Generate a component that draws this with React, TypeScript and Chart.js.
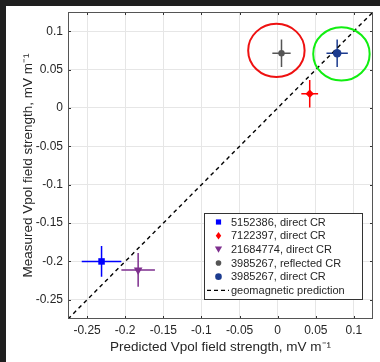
import React, { useEffect, useRef } from 'react';
import { Chart, registerables } from 'chart.js';

Chart.register(...registerables);

// ---- data ----
const seriesLabels = [
  '5152386, direct CR',
  '7122397, direct CR',
  '21684774, direct CR',
  '3985267, reflected CR',
  '3985267, direct CR',
];
const seriesX = [-0.231, 0.042, -0.183, 0.005, 0.078];
const seriesY = [-0.2, 0.0185, -0.211, 0.0713, 0.0713];
const xErrors = [0.026, 0.011, 0.022, 0.012, 0.014];
const yErrors = [0.02, 0.018, 0.022, 0.018, 0.018];
const seriesColors = ['#0000ff', '#ff0000', '#7e2f8e', '#555555', '#1c3b8f'];
const markerStyles = ['rect', 'rectRot', 'triangle', 'circle', 'circle'];

const predictionLabel = 'geomagnetic prediction';
const predictionX = [-0.275, 0.125];
const predictionY = [-0.275, 0.125];

const tickValues = [-0.25, -0.2, -0.15, -0.1, -0.05, 0, 0.05, 0.1];
const tickLabels = ['-0.25', '-0.2', '-0.15', '-0.1', '-0.05', '0', '0.05', '0.1'];

const highlightCx = [-0.0017, 0.0836];
const highlightCy = [0.0749, 0.0704];
const highlightRx = [0.037, 0.037];
const highlightRy = [0.0347, 0.0347];
const highlightColors = ['#ee1111', '#11ee11'];

const xTitle = 'Predicted Vpol field strength, mV m\u207B\u00B9';
const yTitle = 'Measured Vpol field strength, mV m\u207B\u00B9';

const FONT = '"Liberation Sans", Arial, Helvetica, sans-serif';
const TEXT = '#262626';

// ---- style (not data) ----
const pointRadii = [4.6, 4.2, 5, 3.2, 4.3];
const pointRotations = [0, 0, 180, 0, 0];
const legendSizes = [2.6, 3.4, 3.6, 2.8, 3.3];

function drawLegendMarker(ctx: CanvasRenderingContext2D, style: string, x: number, y: number, r: number, color: string) {
  ctx.save();
  ctx.fillStyle = color;
  ctx.beginPath();
  if (style === 'rect') {
    ctx.rect(x - r, y - r, 2 * r, 2 * r);
  } else if (style === 'rectRot') {
    ctx.moveTo(x, y - r * 1.1);
    ctx.lineTo(x + r * 0.8, y);
    ctx.lineTo(x, y + r * 1.1);
    ctx.lineTo(x - r * 0.8, y);
    ctx.closePath();
  } else if (style === 'triangle') {
    ctx.moveTo(x - r, y - r * 0.75);
    ctx.lineTo(x + r, y - r * 0.75);
    ctx.lineTo(x, y + r * 0.95);
    ctx.closePath();
  } else {
    ctx.arc(x, y, r, 0, Math.PI * 2);
  }
  ctx.fill();
  ctx.restore();
}

const errorBarPlugin = {
  id: 'errorBars',
  beforeDatasetsDraw(chart: any) {
    const { ctx, scales, chartArea } = chart;
    const xs = scales.x;
    const ys = scales.y;
    ctx.save();
    ctx.beginPath();
    ctx.rect(chartArea.left, chartArea.top, chartArea.right - chartArea.left, chartArea.bottom - chartArea.top);
    ctx.clip();
    chart.data.datasets.forEach((ds: any) => {
      if (ds.errorX == null) return;
      const p = ds.data[0];
      const cx = xs.getPixelForValue(p.x);
      const cy = ys.getPixelForValue(p.y);
      ctx.strokeStyle = ds.borderColor;
      ctx.lineWidth = 1.5;
      ctx.beginPath();
      ctx.moveTo(xs.getPixelForValue(p.x - ds.errorX), cy);
      ctx.lineTo(xs.getPixelForValue(p.x + ds.errorX), cy);
      ctx.moveTo(cx, ys.getPixelForValue(p.y - ds.errorY));
      ctx.lineTo(cx, ys.getPixelForValue(p.y + ds.errorY));
      ctx.stroke();
    });
    ctx.restore();
  },
};

const framePlugin = {
  id: 'frame',
  afterDatasetsDraw(chart: any) {
    const { ctx, scales, chartArea: a } = chart;
    ctx.save();
    highlightCx.forEach((cx, i) => {
      const px = scales.x.getPixelForValue(cx);
      const py = scales.y.getPixelForValue(highlightCy[i]);
      const rx = Math.abs(scales.x.getPixelForValue(cx + highlightRx[i]) - px);
      const ry = Math.abs(scales.y.getPixelForValue(highlightCy[i] + highlightRy[i]) - py);
      ctx.strokeStyle = highlightColors[i];
      ctx.lineWidth = 2;
      ctx.beginPath();
      ctx.ellipse(px, py, rx, ry, 0, 0, Math.PI * 2);
      ctx.stroke();
    });
    ctx.strokeStyle = '#333333';
    ctx.lineWidth = 1;
    ctx.beginPath();
    const tl = 3;
    tickValues.forEach((v) => {
      const x = Math.round(scales.x.getPixelForValue(v)) + 0.5;
      ctx.moveTo(x, a.bottom);
      ctx.lineTo(x, a.bottom - tl);
      ctx.moveTo(x, a.top);
      ctx.lineTo(x, a.top + tl);
      const y = Math.round(scales.y.getPixelForValue(v)) + 0.5;
      ctx.moveTo(a.left, y);
      ctx.lineTo(a.left + tl, y);
      ctx.moveTo(a.right, y);
      ctx.lineTo(a.right - tl, y);
    });
    ctx.stroke();
    ctx.strokeStyle = '#555555';
    ctx.strokeRect(a.left + 0.5, a.top + 0.5, a.right - a.left - 1, a.bottom - a.top - 1);
    ctx.restore();
  },
};

const legendPlugin = {
  id: 'insideLegend',
  afterDraw(chart: any) {
    const { ctx, chartArea: a } = chart;
    const w = 158;
    const rowH = 13.66;
    const h = 86;
    const right = a.right - 11;
    const bottom = a.bottom - 20;
    const left = right - w;
    const top = bottom - h;
    ctx.save();
    ctx.fillStyle = '#ffffff';
    ctx.fillRect(left, top, w, h);
    ctx.strokeStyle = '#333333';
    ctx.lineWidth = 1;
    ctx.strokeRect(Math.round(left) + 0.5, Math.round(top) + 0.5, w, h);
    ctx.font = `11px ${FONT}`;
    ctx.fillStyle = TEXT;
    ctx.textBaseline = 'middle';
    ctx.textAlign = 'left';
    const datasets = chart.data.datasets;
    datasets.forEach((ds: any, i: number) => {
      const y = top + 9 + i * rowH;
      if (ds.errorX != null) {
        drawLegendMarker(ctx, markerStyles[i], left + 14.5, y, legendSizes[i], seriesColors[i]);
      } else {
        ctx.save();
        ctx.strokeStyle = '#000000';
        ctx.lineWidth = 1.3;
        ctx.setLineDash([4, 3]);
        ctx.beginPath();
        ctx.moveTo(left + 3, y);
        ctx.lineTo(left + 25, y);
        ctx.stroke();
        ctx.restore();
      }
      ctx.fillStyle = TEXT;
      ctx.fillText(ds.label, left + 27, y + 0.5);
    });
    ctx.restore();
  },
};

function setTicks(scale: any) {
  scale.ticks = tickValues.map((v) => ({ value: v }));
}

export default function App() {
  const canvasRef = useRef<HTMLCanvasElement | null>(null);

  useEffect(() => {
    const canvas = canvasRef.current;
    if (!canvas) return;
    const datasets: any[] = seriesLabels.map((label, i) => ({
      label,
      data: [{ x: seriesX[i], y: seriesY[i] }],
      pointStyle: markerStyles[i],
      rotation: pointRotations[i],
      pointRadius: pointRadii[i],
      pointHoverRadius: pointRadii[i],
      backgroundColor: seriesColors[i],
      borderColor: seriesColors[i],
      borderWidth: 0,
      errorX: xErrors[i],
      errorY: yErrors[i],
    }));
    datasets.push({
      label: predictionLabel,
      data: predictionX.map((x, i) => ({ x, y: predictionY[i] })),
      showLine: true,
      borderColor: '#000000',
      backgroundColor: '#000000',
      borderWidth: 1.4,
      borderDash: [4, 3.5],
      pointRadius: 0,
      fill: false,
    });

    const axisCommon = (title: string, isX: boolean) => ({
      type: 'linear',
      min: -0.275,
      max: 0.125,
      afterBuildTicks: setTicks,
      afterFit: (s: any) => {
        if (isX) {
          s.height = 43;
          s.paddingLeft = 0;
          s.paddingRight = 0;
        } else {
          s.width = 62;
          s.paddingTop = 0;
          s.paddingBottom = 0;
        }
      },
      ticks: {
        callback: (_v: any, idx: number) => tickLabels[idx],
        font: { family: FONT, size: 12 },
        color: TEXT,
        padding: isX ? 4 : 5,
        maxRotation: 0,
        autoSkip: false,
      },
      grid: { color: '#e6e6e6', lineWidth: 1, drawTicks: false },
      border: { display: false },
      title: {
        display: true,
        text: title,
        font: { family: FONT, size: 13.5 },
        color: TEXT,
        padding: isX ? { top: 0, bottom: 7 } : { top: 14, bottom: 0 },
      },
    });

    const chart = new Chart(canvas, {
      type: 'scatter',
      data: { datasets },
      options: {
        animation: false,
        responsive: false,
        devicePixelRatio: 1,
        layout: { padding: { left: 0, right: 7, top: 6, bottom: 0 } },
        plugins: { legend: { display: false }, tooltip: { enabled: false } },
        scales: {
          x: axisCommon(xTitle, true) as any,
          y: axisCommon(yTitle, false) as any,
        },
      },
      plugins: [errorBarPlugin, framePlugin, legendPlugin],
    } as any);
    return () => chart.destroy();
  }, []);

  return (
    <div style={{ position: 'fixed', left: 0, top: 0, width: 380, height: 362, background: '#1f1f1f', overflow: 'hidden' }}>
      <canvas
        ref={canvasRef}
        width={374}
        height={356}
        style={{ position: 'absolute', left: 6, top: 6, width: 374, height: 356, background: '#ffffff' }}
      />
    </div>
  );
}
